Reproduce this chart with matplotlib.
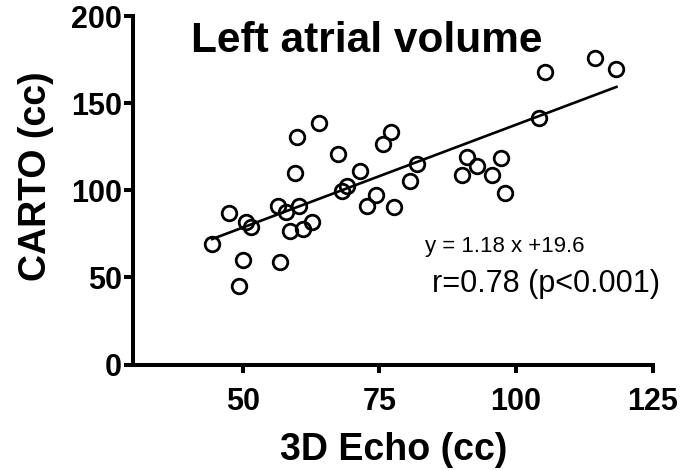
import numpy as np
import matplotlib
matplotlib.use("Agg")
import matplotlib.pyplot as plt

plt.rcParams['font.family'] = ['Liberation Sans', 'DejaVu Sans']

# 데이터
echo_3d = [44.4, 47.4, 50.6, 51.6, 50.1, 49.4, 56.4, 57.9, 58.7, 56.8,
           60.3, 61.1, 62.7, 59.5, 60.0, 63.9, 67.5, 68.1, 69.1, 71.4,
           72.7, 74.3, 75.6, 77.2, 77.6, 81.9, 80.6, 91.1, 92.9, 90.1,
           95.6, 97.3, 98.0, 104.2, 105.4, 114.5, 118.4]
carto = [69.0, 86.8, 81.8, 79.1, 60.0, 45.0, 91.0, 87.5, 76.9, 59.0,
         90.8, 77.8, 82.0, 109.7, 130.7, 138.6, 121.0, 99.6, 102.4, 110.8,
         90.8, 97.0, 126.5, 133.3, 90.4, 115.2, 105.5, 118.9, 113.7, 108.6,
         108.8, 118.8, 98.7, 141.6, 167.7, 175.7, 169.6]

slope = 1.18
intercept = 19.6

x_ticks = [50, 75, 100, 125]
y_ticks = [0, 50, 100, 150, 200]

fig = plt.figure(figsize=(6.96, 4.71), dpi=100)
ax = fig.add_axes([0.1918, 0.2261, 0.7457, 0.7399])

x = np.array(echo_3d)
xs = np.array([x.min(), x.max()])
ax.plot(xs, slope * xs + intercept, color='black', linewidth=1.9, zorder=2)
ax.plot(echo_3d, carto, linestyle='none', marker='o', markersize=10.5,
        markerfacecolor='none', markeredgecolor='black', markeredgewidth=2.0,
        zorder=3, clip_on=False)

ax.set_xlim(30, 125)
ax.set_ylim(0, 200)
ax.set_xticks(x_ticks)
ax.set_yticks(y_ticks)

for side in ['top', 'right']:
    ax.spines[side].set_visible(False)
for side in ['left', 'bottom']:
    ax.spines[side].set_linewidth(2.9)

ax.tick_params(axis='both', direction='out', width=2.9, labelsize=22)
ax.tick_params(axis='x', length=6, pad=10)
ax.tick_params(axis='y', length=6.5, pad=2)
for lab in ax.get_xticklabels() + ax.get_yticklabels():
    lab.set_fontweight('bold')

ax.set_xlabel("3D Echo (cc)", fontsize=27, fontweight='bold', va='center')
ax.xaxis.set_label_coords(0.502, -0.245)
ax.set_ylabel("CARTO (cc)", fontsize=27, fontweight='bold', va='center')
ax.yaxis.set_label_coords(-0.188, 0.541)

fig.text(0.527, 0.890, "Left atrial volume", fontsize=30.5, fontweight='bold',
         ha='center', va='baseline')
fig.text(425 / 696, 0.4656, "y = 1.18 x +19.6", fontsize=16,
         ha='left', va='baseline')
fig.text(431.7 / 696, 0.3807, "r=0.78 (p<0.001)", fontsize=22,
         ha='left', va='baseline')

fig.savefig("out.png", dpi=100)
